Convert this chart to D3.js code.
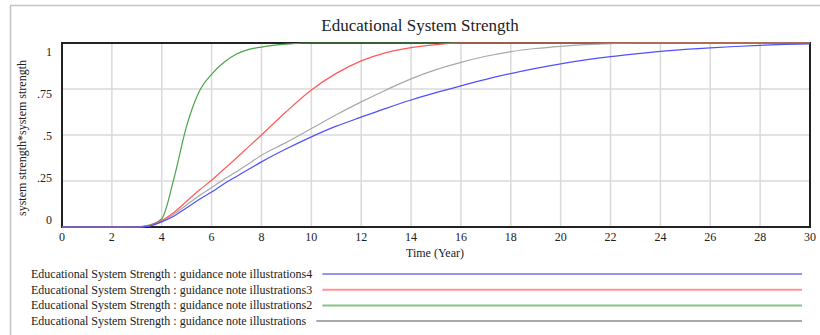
<!DOCTYPE html>
<html>
<head>
<meta charset="utf-8">
<script src="https://cdn.jsdelivr.net/npm/d3@7"></script>
<style>
  body { margin: 0; background: #fff; }
  svg { display: block; font-family: "Liberation Serif", "Times New Roman", serif; }
</style>
</head>
<body>
<svg id="chart" width="820" height="335"></svg>
<script>
// Simulation time (years)
const years = [0, 1, 2, 3, 3.5, 4, 4.5, 5, 5.5, 6, 6.5, 7, 7.5, 8, 9, 10, 11, 12, 13, 14, 15,
               16, 17, 18, 19, 20, 21, 22, 23, 24, 25, 26, 27, 28, 29, 30];

// Educational System Strength for each run
const illustrations  = [0, 0, 0, 0, 0.006, 0.03, 0.07, 0.12, 0.17, 0.215, 0.26, 0.30, 0.345, 0.39, 0.46, 0.535, 0.61,
                        0.68, 0.745, 0.805, 0.855, 0.895, 0.928, 0.953, 0.97, 0.982, 0.991, 0.997, 1, 1, 1, 1, 1, 1, 1, 1];
const illustrations2 = [0, 0, 0, 0, 0.01, 0.045, 0.27, 0.55, 0.735, 0.83, 0.895, 0.94, 0.965, 0.978, 0.994, 1, 1,
                        1, 1, 1, 1, 1, 1, 1, 1, 1, 1, 1, 1, 1, 1, 1, 1, 1, 1, 1];
const illustrations3 = [0, 0, 0, 0, 0.008, 0.035, 0.08, 0.14, 0.20, 0.254, 0.315, 0.375, 0.438, 0.50, 0.628, 0.745, 0.835,
                        0.903, 0.948, 0.975, 0.991, 1, 1, 1, 1, 1, 1, 1, 1, 1, 1, 1, 1, 1, 1, 1];
const illustrations4 = [0, 0, 0, 0, 0.005, 0.028, 0.06, 0.105, 0.15, 0.19, 0.235, 0.275, 0.315, 0.354, 0.425, 0.49, 0.548,
                        0.597, 0.645, 0.69, 0.73, 0.767, 0.802, 0.834, 0.862, 0.887, 0.908, 0.926, 0.941, 0.954, 0.965,
                        0.974, 0.981, 0.987, 0.992, 0.995];

const xTicks = [0, 2, 4, 6, 8, 10, 12, 14, 16, 18, 20, 22, 24, 26, 28, 30];
const yTicks = [0, 0.25, 0.5, 0.75, 1];
const yTickLabels = ["0", ".25", ".5", ".75", "1"];

const seriesNames = [
  "Educational System Strength : guidance note illustrations4",
  "Educational System Strength : guidance note illustrations3",
  "Educational System Strength : guidance note illustrations2",
  "Educational System Strength : guidance note illustrations"
];
const seriesValues = [illustrations4, illustrations3, illustrations2, illustrations];
const lineColors   = ["#5050ff", "#ff5a5a", "#4aa44a", "#a8a8a8"];
const legendColors = ["#9494f6", "#ff9494", "#88c488", "#a8a8a8"];

const svg = d3.select("#chart");
const plot = { left: 62, right: 810, top: 43, bottom: 227 };

const x = d3.scaleLinear().domain([0, 30]).range([plot.left, plot.right]);
const y = d3.scaleLinear().domain([0, 1]).range([plot.bottom, plot.top]);
// tick labels sit on their own slightly tighter ladder
const yLabel = d3.scaleLinear().domain([0, 1]).range([220, 52]);

// outer panel edge
svg.append("path")
  .attr("d", "M10.5,335 V5.5 H820")
  .attr("fill", "none").attr("stroke", "#c4c4c4").attr("stroke-width", 1.5);

// title
svg.append("text")
  .attr("x", 420).attr("y", 31)
  .attr("text-anchor", "middle")
  .attr("font-size", 17).attr("fill", "#222")
  .text("Educational System Strength");

// grid
svg.append("g").selectAll("line").data(xTicks.slice(1, -1)).join("line")
  .attr("x1", d => x(d)).attr("x2", d => x(d))
  .attr("y1", plot.top).attr("y2", plot.bottom)
  .attr("stroke", "#dadada").attr("stroke-width", 1.5);
svg.append("g").selectAll("line").data(yTicks.slice(1, -1)).join("line")
  .attr("x1", plot.left).attr("x2", plot.right)
  .attr("y1", d => y(d)).attr("y2", d => y(d))
  .attr("stroke", "#dadada").attr("stroke-width", 1.5);

// frame
svg.append("rect")
  .attr("x", plot.left).attr("y", plot.top)
  .attr("width", plot.right - plot.left).attr("height", plot.bottom - plot.top)
  .attr("fill", "none").attr("stroke", "#222").attr("stroke-width", 2);

// x tick labels
svg.append("g").selectAll("text").data(xTicks).join("text")
  .attr("x", d => x(d)).attr("y", 241)
  .attr("text-anchor", "middle").attr("font-size", 12).attr("fill", "#222")
  .text(d => d);

// y tick labels
svg.append("g").selectAll("text").data(yTicks).join("text")
  .attr("x", 52).attr("y", d => yLabel(d) + 4)
  .attr("text-anchor", "end").attr("font-size", 12).attr("fill", "#222")
  .text((d, i) => yTickLabels[i]);

// axis titles
svg.append("text")
  .attr("x", 435).attr("y", 257)
  .attr("text-anchor", "middle").attr("font-size", 12).attr("fill", "#222")
  .text("Time (Year)");
svg.append("text")
  .attr("transform", "translate(26,138) rotate(-90)")
  .attr("text-anchor", "middle").attr("font-size", 12).attr("fill", "#222")
  .text("system strength*system strength");

// series lines, drawn back to front
const line = d3.line().x((d, i) => x(years[i])).y(d => y(d)).curve(d3.curveMonotoneX);
const order = [3, 2, 1, 0];
svg.append("g").selectAll("path").data(order).join("path")
  .attr("d", k => line(seriesValues[k]))
  .attr("fill", "none")
  .attr("stroke", k => lineColors[k])
  .attr("stroke-width", 1.2);

// legend
const legend = svg.append("g");
seriesNames.forEach((name, i) => {
  const cy = 274 + i * 15.7;
  const t = legend.append("text")
    .attr("x", 31).attr("y", cy + 4)
    .attr("font-size", 12).attr("fill", "#222")
    .text(name);
  const end = t.node().getComputedTextLength() + 31;
  legend.append("line")
    .attr("x1", end + 10).attr("x2", 802)
    .attr("y1", cy).attr("y2", cy)
    .attr("stroke", legendColors[i]).attr("stroke-width", 2);
});
</script>
</body>
</html>
